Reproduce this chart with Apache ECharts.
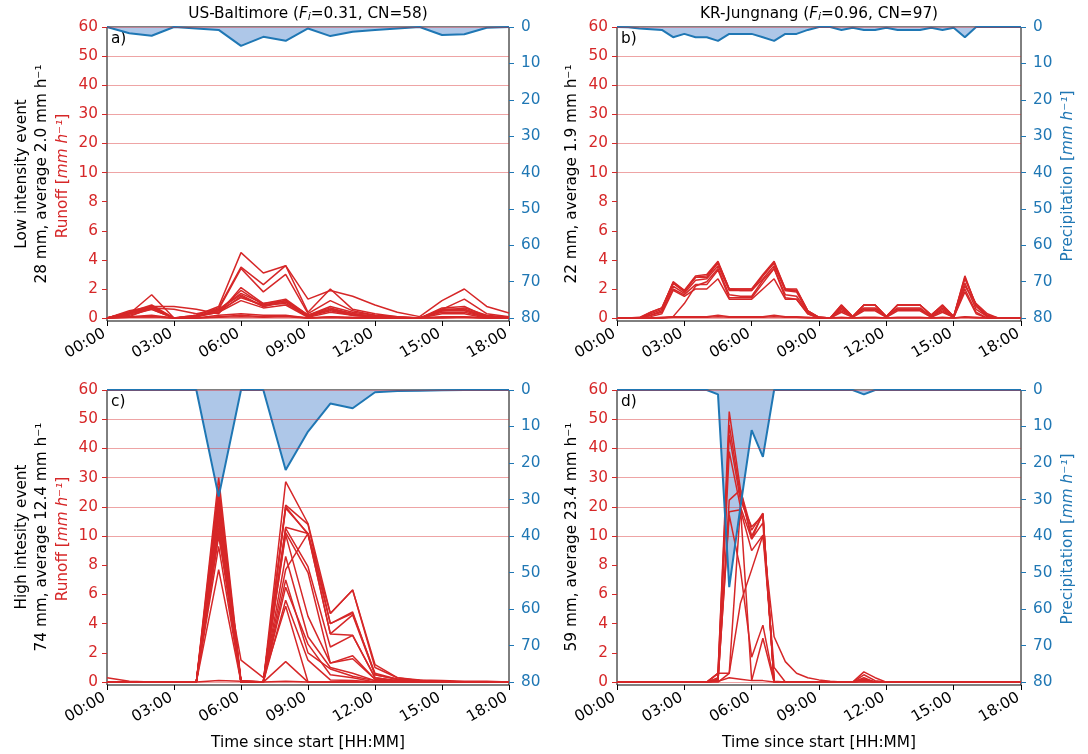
<!DOCTYPE html>
<html>
<head>
<meta charset="utf-8">
<script src="https://cdn.jsdelivr.net/npm/echarts@6/dist/echarts.min.js"></script>
<style>
html, body { margin: 0; padding: 0; background: #fff; }
#chart { width: 1088px; height: 754px; }
</style>
</head>
<body>
<div id="chart"></div>
<script>
// time steps, hours since start
var hourly = [0,1,2,3,4,5,6,7,8,9,10,11,12,13,14,15,16,17,18];
var halfHourly = [0,0.5,1,1.5,2,2.5,3,3.5,4,4.5,5,5.5,6,6.5,7,7.5,8,8.5,9,9.5,10,10.5,11,11.5,12,12.5,13,13.5,14,14.5,15,15.5,16,16.5,17,17.5,18];
var timeTickLabels = ['00:00','03:00','06:00','09:00','12:00','15:00','18:00'];
var runoffTickLabels = [0,2,4,6,8,10,20,30,40,50,60];
var precipTickValues = [0,10,20,30,40,50,60,70,80];
var runoffGridValues = [0,10,20,30,40,50,60];

// precipitation [mm/h]
var precipA = [0,1.7,2.4,0,0.4,0.8,5.2,2.7,3.8,0.4,2.5,1.3,0.8,0.4,0,2.2,2.0,0.2,0];
var precipB = [0,0.1,0.4,0.6,0.8,2.8,1.9,2.8,2.8,3.8,1.9,1.9,1.9,2.8,3.8,1.9,1.9,0.8,0,0,0.8,0.2,0.8,0.8,0.2,0.8,0.8,0.8,0.2,0.8,0.2,2.8,0,0,0,0,0];
var precipC = [0,0,0,0,0,29.2,0,0,21.9,11.4,3.7,5.0,0.6,0.3,0.2,0.1,0,0,0];
var precipD = [0,0,0,0,0,0,0,0,0,1.2,54,32,11,18.3,0,0,0,0,0,0,0,0,1.2,0,0,0,0,0,0,0,0,0,0,0,0,0,0];

// runoff ensemble members [mm/h]
var runoffA = [
  [0,0.3,0.6,0,0.2,0.8,4.5,3.1,3.6,1.3,1.9,1.5,0.9,0.4,0.1,1.2,2.0,0.8,0.35],
  [0,0.4,0.8,0,0.2,0.7,3.5,2.3,3.6,0.4,2.0,0.6,0.3,0.1,0,0.6,1.3,0.3,0.1],
  [0,0.3,1.6,0,0.1,0.6,3.4,1.8,3.0,0.3,1.2,0.5,0.2,0.1,0,0.5,0.7,0.2,0.05],
  [0,0.5,0.8,0.8,0.6,0.3,2.1,1.0,1.3,0.2,0.8,0.4,0.2,0.05,0,0.7,0.8,0.1,0],
  [0,0.4,0.9,0,0.1,0.5,1.9,0.9,1.2,0.2,0.7,0.3,0.1,0,0,0.6,0.6,0.1,0],
  [0,0.4,0.7,0,0.1,0.6,1.7,1.0,1.2,0.1,0.6,0.3,0.1,0,0,0.5,0.6,0.1,0],
  [0,0.3,0.8,0,0.1,0.4,1.5,0.8,1.1,0.1,0.5,0.2,0.1,0,0,0.5,0.5,0.05,0],
  [0,0.3,0.7,0,0.1,0.5,1.4,0.9,1.0,0.1,0.6,0.2,0.1,0,0,0.4,0.4,0.05,0],
  [0,0.2,0.6,0,0.1,0.4,1.2,0.7,0.9,0.05,0.4,0.2,0.05,0,0,0.3,0.3,0,0],
  [0,0.1,0.7,0.6,0.3,0.6,1.6,0.8,1.2,0.2,0.6,0.3,0.1,0,0,0.6,0.6,0.1,0],
  [0,0.1,0.2,0,0,0.2,0.3,0.2,0.2,0,0.1,0.05,0,0,0,0.1,0.1,0,0],
  [0,0.05,0.1,0,0,0.1,0.2,0.1,0.15,0,0.05,0,0,0,0,0.05,0.05,0,0],
  [0,0.05,0.1,0,0,0.05,0.1,0.05,0.1,0,0.05,0,0,0,0,0,0.05,0,0]
];
var runoffB = [
  [0,0,0,0.3,0.6,2.5,1.9,2.9,3.0,3.9,2.0,2.0,2.0,3.0,3.9,2.0,1.9,0.5,0.05,0,0.9,0.1,0.9,0.9,0.1,0.9,0.9,0.9,0.2,0.9,0.1,2.9,0.8,0.1,0,0,0],
  [0,0,0,0.4,0.7,2.4,1.8,2.8,2.9,3.8,2.0,1.9,1.9,2.9,3.8,1.9,1.9,0.5,0.05,0,0.8,0.1,0.9,0.9,0.1,0.9,0.9,0.9,0.2,0.8,0.1,2.8,0.9,0.1,0,0,0],
  [0,0,0.05,0.4,0.7,2.4,1.9,2.8,2.8,3.8,2.0,2.0,2.0,2.9,3.8,2.0,2.0,0.5,0.05,0,0.9,0.1,0.9,0.9,0.1,0.9,0.9,0.9,0.2,0.9,0.1,2.7,0.9,0.2,0,0,0],
  [0,0,0,0.2,0.5,2.2,1.7,2.6,2.7,3.6,1.9,1.9,1.9,2.7,3.6,1.9,1.8,0.4,0.05,0,0.7,0.1,0.7,0.7,0.1,0.7,0.7,0.7,0.1,0.7,0.1,2.4,0.6,0.1,0,0,0],
  [0,0,0,0.2,0.4,2.0,1.6,2.3,2.3,3.3,1.4,1.4,1.4,2.4,3.4,1.4,1.3,0.3,0,0,0.5,0.1,0.6,0.6,0.1,0.6,0.6,0.6,0.1,0.5,0.05,2.0,0.4,0,0,0,0],
  [0,0,0,0.1,0.3,1.9,1.5,2.0,2.0,2.7,1.3,1.3,1.3,2.0,2.7,1.3,1.3,0.3,0,0,0.4,0.05,0.5,0.5,0.05,0.5,0.5,0.5,0.05,0.4,0.05,1.8,0.3,0,0,0,0],
  [0,0,0,0,0,0.1,1.0,2.2,2.5,3.4,1.6,1.5,1.5,2.6,3.4,1.6,1.5,0.4,0,0,0.6,0.1,0.6,0.6,0.1,0.6,0.6,0.6,0.1,0.6,0.05,2.2,1.0,0.3,0,0,0],
  [0,0,0,0,0.05,0.1,0.1,0.1,0.1,0.2,0.1,0.1,0.1,0.1,0.2,0.1,0.1,0.05,0,0,0.05,0,0.05,0.05,0,0.05,0.05,0.05,0,0.05,0,0.1,0.05,0,0,0,0],
  [0,0,0,0,0,0.05,0.05,0.05,0.05,0.1,0.05,0.05,0.05,0.05,0.1,0.05,0.05,0,0,0,0,0,0,0,0,0,0,0,0,0,0,0.05,0,0,0,0,0]
];
var runoffC = [
  [0.3,0.05,0,0,0,30,0.1,0,28.6,14.3,4.7,6.3,1.2,0.3,0.15,0.1,0.05,0.05,0],
  [0,0,0,0,0,27,0,0,20.6,14.0,4.0,4.7,0.6,0.2,0.1,0.05,0,0,0],
  [0,0,0,0,0,25,0,0,20.0,10.6,3.3,4.6,0.5,0.2,0.1,0,0,0,0],
  [0,0,0,0,0,23,0,0,19.5,10.9,4.7,6.3,1.0,0.3,0.1,0.05,0,0,0],
  [0,0,0,0,0,22,0,0,12.6,7.9,2.4,3.2,0.3,0.1,0,0,0,0,0],
  [0,0,0,0,0,21,0,0,13.0,10.9,4.0,4.8,0.5,0.2,0.1,0,0,0,0],
  [0,0,0,0,0,19,0,0,11.2,7.5,1.3,1.8,0.2,0.1,0,0,0,0,0],
  [0,0,0,0,0,18,0,0,10.5,4.5,1.3,1.6,0.2,0,0,0,0,0,0],
  [0,0,0,0,0,16,0,0,8.6,3.1,1.0,0.6,0.1,0,0,0,0,0,0],
  [0,0,0,0,0,15,0,0,7.7,10.9,3.3,3.2,0.3,0.1,0,0,0,0,0],
  [0,0,0,0,0,13,0.1,0,7.0,2.0,0.9,0.4,0.1,0,0,0,0,0,0],
  [0,0,0,0,0,11,0,0,5.6,1.5,0.15,0.1,0,0,0,0,0,0,0],
  [0,0,0,0,0,10,1.5,0.3,5.2,0,0,0,0,0,0,0,0,0,0],
  [0,0,0,0,0,9.3,0,0,6.5,2.6,0.5,0.3,0,0,0,0,0,0,0],
  [0,0,0,0,0,7.7,0,0,1.4,0,0,0,0,0,0,0,0,0,0],
  [0,0,0,0,0,0.1,0.05,0,0.05,0,0,0,0,0,0,0,0,0,0]
];
var runoffD = [
  [0,0,0,0,0,0,0,0,0,0.6,52.6,26,9.8,17.8,0,0,0,0,0,0,0,0,0.7,0.3,0,0,0,0,0,0,0,0,0,0,0,0,0],
  [0,0,0,0,0,0,0,0,0,0.6,48,24,10.0,17.5,0,0,0,0,0,0,0,0,0.5,0.1,0,0,0,0,0,0,0,0,0,0,0,0,0],
  [0,0,0,0,0,0,0,0,0,0.3,44.6,22.3,13.2,17.0,0.05,0,0,0,0,0,0,0,0.3,0,0,0,0,0,0,0,0,0,0,0,0,0,0],
  [0,0,0,0,0,0,0,0,0,0.2,38.9,20,9.8,14.5,0,0,0,0,0,0,0,0,0.2,0,0,0,0,0,0,0,0,0,0,0,0,0,0],
  [0,0,0,0,0,0,0,0,0,0.1,22.3,25.8,12,17.8,0,0,0,0,0,0,0,0,0.2,0,0,0,0,0,0,0,0,0,0,0,0,0,0],
  [0,0,0,0,0,0,0,0,0,0.1,18.3,19,9.0,10.3,1.0,0,0,0,0,0,0,0,0.1,0,0,0,0,0,0,0,0,0,0,0,0,0,0],
  [0,0,0,0,0,0,0,0,0,0.1,17.2,7.7,1.7,3.9,0,0,0,0,0,0,0,0,0.1,0,0,0,0,0,0,0,0,0,0,0,0,0,0],
  [0,0,0,0,0,0,0,0,0,0.6,0.6,5.4,7.7,10.3,3.1,1.4,0.6,0.3,0.15,0.05,0,0,0.1,0,0,0,0,0,0,0,0,0,0,0,0,0,0],
  [0,0,0,0,0,0,0,0,0,0,0.6,20,0.1,3.0,0,0,0,0,0,0,0,0,0,0,0,0,0,0,0,0,0,0,0,0,0,0,0],
  [0,0,0,0,0,0,0,0,0,0.05,0.3,0.2,0.1,0.1,0,0,0,0,0,0,0,0,0.05,0,0,0,0,0,0,0,0,0,0,0,0,0,0]
];

var FONT = '"DejaVu Sans", sans-serif';
var FS = 15.3;
var RED = '#d62728';
var BLUE = '#1f77b4';

// runoff axis is linear 0-10 then 10-60 compressed
function runoffToAxis(v) {
  return v <= 10 ? v / 2 : 5 + (v - 10) / 10;
}

var panels = [
  { left: 107, top: 27, width: 402, height: 294, times: hourly, precip: precipA, runoff: runoffA, letter: 'a)' },
  { left: 617, top: 27, width: 404, height: 294, times: halfHourly, precip: precipB, runoff: runoffB, letter: 'b)' },
  { left: 107, top: 390, width: 402, height: 295, times: hourly, precip: precipC, runoff: runoffC, letter: 'c)' },
  { left: 617, top: 390, width: 404, height: 295, times: halfHourly, precip: precipD, runoff: runoffD, letter: 'd)' }
];

var option = {
  animation: false,
  backgroundColor: '#fff',
  grid: [], xAxis: [], yAxis: [], series: [], graphic: []
};

var leftTickIdx = [0,1,2,3,4,5,6,7,8,9,10];

panels.forEach(function (p, k) {
  option.grid.push({
    left: p.left, top: p.top, width: p.width, height: p.height,
    show: true, borderColor: '#000', borderWidth: 1, backgroundColor: 'transparent'
  });
  option.xAxis.push({
    gridIndex: k, type: 'value', min: 0, max: 18, interval: 3,
    axisLine: { show: false, onZero: false },
    axisTick: { show: true, length: 5, lineStyle: { color: '#000' } },
    axisLabel: {
      rotate: 30, margin: 10, padding: [0, 3, 0, 0], color: '#000', fontSize: FS, fontFamily: FONT,
      formatter: function (v) { return timeTickLabels[Math.round(v / 3)]; }
    },
    splitLine: { show: false }
  });
  option.yAxis.push({
    gridIndex: k, type: 'value', position: 'left', min: -0.1, max: 10,
    axisLine: { show: false, onZero: false },
    axisTick: { show: true, length: 5, lineStyle: { color: RED }, customValues: leftTickIdx },
    axisLabel: {
      customValues: leftTickIdx, margin: 9, color: RED, fontSize: FS, fontFamily: FONT,
      formatter: function (v) { return String(runoffTickLabels[Math.round(v)]); }
    },
    splitLine: { show: false }
  });
  option.yAxis.push({
    gridIndex: k, type: 'value', position: 'right', inverse: true, min: 0, max: 80.8,
    axisLine: { show: false, onZero: false },
    axisTick: { show: true, length: 5, lineStyle: { color: BLUE }, customValues: precipTickValues },
    axisLabel: { customValues: precipTickValues, margin: 12, color: BLUE, fontSize: FS, fontFamily: FONT },
    splitLine: { show: false }
  });

  // light red reference lines
  option.series.push({
    type: 'line', xAxisIndex: k, yAxisIndex: 2 * k, data: [[0, 0]], showSymbol: false,
    lineStyle: { width: 0 }, silent: true, z: 1,
    markLine: {
      silent: true, symbol: 'none', label: { show: false },
      lineStyle: { color: 'rgba(214,39,40,0.42)', type: 'solid', width: 1.2 },
      data: runoffGridValues.map(function (v) { return { yAxis: runoffToAxis(v) }; })
    }
  });
  // precipitation fill
  option.series.push({
    type: 'line', xAxisIndex: k, yAxisIndex: 2 * k + 1, silent: true, z: 2,
    data: p.times.map(function (t, i) { return [t, p.precip[i]]; }),
    showSymbol: false, lineStyle: { width: 0 },
    areaStyle: { color: '#aec7e8', opacity: 1 }
  });
  // runoff members
  p.runoff.forEach(function (member) {
    option.series.push({
      type: 'line', xAxisIndex: k, yAxisIndex: 2 * k, silent: true, z: 3,
      data: p.times.map(function (t, i) { return [t, runoffToAxis(member[i])]; }),
      showSymbol: false, lineStyle: { color: RED, width: 1.5 }
    });
  });
  // precipitation line
  option.series.push({
    type: 'line', xAxisIndex: k, yAxisIndex: 2 * k + 1, silent: true, z: 4,
    data: p.times.map(function (t, i) { return [t, p.precip[i]]; }),
    showSymbol: false, lineStyle: { color: BLUE, width: 2 }
  });

  option.graphic.push({
    type: 'text', x: p.left + 4, y: p.top + 12, silent: true,
    style: { text: p.letter, font: FS + 'px ' + FONT, fill: '#000', align: 'left', verticalAlign: 'middle' }
  });
});

function addText(x, y, text, color, rotated) {
  option.graphic.push({
    type: 'text', x: x, y: y, rotation: rotated ? Math.PI / 2 : 0, silent: true,
    style: {
      text: text, font: FS + 'px ' + FONT, fill: color, align: 'center', verticalAlign: 'middle',
      rich: {
        it: { fontStyle: 'italic', fontSize: FS, fontFamily: FONT, fill: color },
        sub: { fontStyle: 'italic', fontSize: 11, fontFamily: FONT, fill: color, padding: [7, 0, 0, 0] }
      }
    }
  });
}

addText(308, 14, 'US-Baltimore ({it|F}{sub|i}=0.31, CN=58)', '#000', false);
addText(819, 14, 'KR-Jungnang ({it|F}{sub|i}=0.96, CN=97)', '#000', false);
addText(308, 743, 'Time since start [HH:MM]', '#000', false);
addText(819, 743, 'Time since start [HH:MM]', '#000', false);

addText(22, 174, 'Low intensity event', '#000', true);
addText(42, 174, '28 mm, average 2.0 mm h⁻¹', '#000', true);
addText(63, 176, 'Runoff [{it|mm h⁻¹}]', RED, true);
addText(572, 174, '22 mm, average 1.9 mm h⁻¹', '#000', true);
addText(1068, 176, 'Precipitation [{it|mm h⁻¹}]', BLUE, true);

addText(22, 537, 'High intesity event', '#000', true);
addText(42, 537, '74 mm, average 12.4 mm h⁻¹', '#000', true);
addText(63, 539, 'Runoff [{it|mm h⁻¹}]', RED, true);
addText(572, 537, '59 mm, average 23.4 mm h⁻¹', '#000', true);
addText(1068, 539, 'Precipitation [{it|mm h⁻¹}]', BLUE, true);

var myChart = echarts.init(document.getElementById('chart'));
myChart.setOption(option);
</script>
</body>
</html>
